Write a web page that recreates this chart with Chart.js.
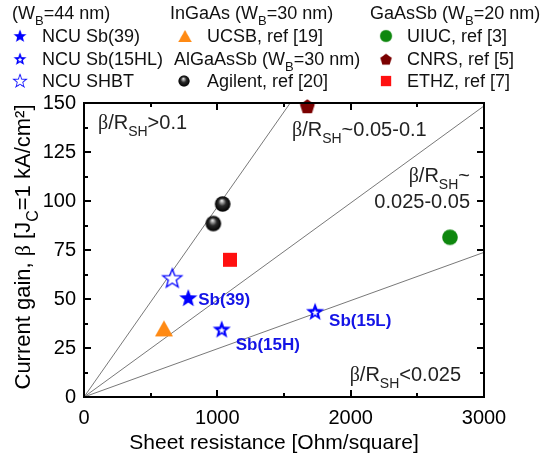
<!DOCTYPE html>
<html lang="en">
<head>
<meta charset="UTF-8">
<title>Current gain vs sheet resistance</title>
<script src="https://cdn.jsdelivr.net/npm/chart.js@4.4.1/dist/chart.umd.min.js"></script>
<style>
    body { margin: 0; background: #fff; }
    #palco { position: relative; width: 546px; height: 465px; }
    canvas { display: block; }
    .traco { position: absolute; background: #000; pointer-events: none; }
</style>
</head>
<body>
<div id="palco">
    <canvas id="grafico" width="546" height="465"></canvas>
</div>
<script>
    // data (sheet resistance in Ohm/sq, gain)
    const sb39R = [782];
    const sb39Gain = [50.5];
    const sb15R = [1033, 1733];
    const sb15Gain = [34.5, 43.5];
    const sb15Labels = ['Sb(15H)', 'Sb(15L)'];
    const shbtR = [662];
    const shbtGain = [60.5];
    const ucsbR = [600];
    const ucsbGain = [35];
    const agilentR = [970, 1040];
    const agilentGain = [88.5, 98.5];
    const uiucR = [2745];
    const uiucGain = [81.5];
    const cnrsR = [1675];
    const cnrsGain = [148.5];
    const ethzR = [1095];
    const ethzGain = [70];
    // beta / Rsh guide lines through the origin
    const guideSlopes = [0.097, 0.0495, 0.0246];
    const xTicks = [0, 1000, 2000, 3000];
    const yTicks = [0, 25, 50, 75, 100, 125, 150];

    const FONT = '"Liberation Sans", Arial, sans-serif';
    const SERIF = '"Liberation Serif", "Times New Roman", serif';
    const BLUE = '#0000ff';

    function pts(xs, ys) {
        return xs.map((x, i) => ({ x: x, y: ys[i] }));
    }

    function marker(size, draw) {
        const c = document.createElement('canvas');
        c.width = size; c.height = size;
        draw(c.getContext('2d'), size / 2);
        return c;
    }

    function starPath(c, cx, cy, R, r) {
        c.beginPath();
        for (let i = 0; i < 10; i++) {
            const a = -Math.PI / 2 + i * Math.PI / 5;
            const rr = i % 2 ? r : R;
            c.lineTo(cx + rr * Math.cos(a), cy + rr * Math.sin(a));
        }
        c.closePath();
    }

    const mStarFull = marker(22, (c, m) => {
        starPath(c, m, m + 0.5, 9.5, 4); c.fillStyle = BLUE; c.fill();
    });
    const mStarHL = marker(22, (c, m) => {
        starPath(c, m, m + 0.5, 9.5, 4); c.fillStyle = BLUE; c.fill();
        starPath(c, m, m + 1, 3.6, 1.5); c.fillStyle = '#fff'; c.fill();
    });
    const mStarOpen = marker(24, (c, m) => {
        starPath(c, m, m + 0.5, 10, 4.2); c.fillStyle = '#fff'; c.fill();
        c.strokeStyle = BLUE; c.lineWidth = 1.3; c.stroke();
    });
    const mTriangle = marker(22, (c, m) => {
        c.beginPath(); c.moveTo(m, m - 8); c.lineTo(m + 9, m + 8); c.lineTo(m - 9, m + 8); c.closePath();
        c.fillStyle = '#ff8a14'; c.fill();
    });
    const mSphere = marker(20, (c, m) => {
        const g = c.createRadialGradient(m - 1, m - 3.5, 0, m, m, 7.8);
        g.addColorStop(0, '#ffffff');
        g.addColorStop(0.18, '#b0b0b0');
        g.addColorStop(0.5, '#2a2a2a');
        g.addColorStop(1, '#000000');
        c.beginPath(); c.arc(m, m, 7.8, 0, Math.PI * 2); c.fillStyle = g; c.fill();
    });
    const mCircle = marker(20, (c, m) => {
        c.beginPath(); c.arc(m, m, 7.8, 0, Math.PI * 2); c.fillStyle = '#0e870e'; c.fill();
    });
    const mPentagon = marker(20, (c, m) => {
        c.beginPath();
        for (let i = 0; i < 5; i++) {
            const a = -Math.PI / 2 + i * 2 * Math.PI / 5;
            c.lineTo(m + 7.8 * Math.cos(a), m + 1 + 7.8 * Math.sin(a));
        }
        c.closePath(); c.fillStyle = '#7b0000'; c.fill();
    });
    const mSquare = marker(20, (c, m) => {
        c.fillStyle = '#ff1010'; c.fillRect(m - 7, m - 7, 14, 14);
    });

    function rich(ctx, parts, x, y, size, align, color) {
        const sub = Math.round(size * 0.72);
        const fnt = k => k === 's' ? sub + 'px ' + FONT : k === 'b' ? size + 'px ' + SERIF : size + 'px ' + FONT;
        let w = 0;
        parts.forEach(p => { ctx.font = fnt(p[1]); w += ctx.measureText(p[0]).width; });
        let cx = align === 'right' ? x - w : align === 'center' ? x - w / 2 : x;
        ctx.fillStyle = color;
        ctx.textAlign = 'left';
        ctx.textBaseline = 'alphabetic';
        parts.forEach(p => {
            ctx.font = fnt(p[1]);
            const dy = p[1] === 's' ? size * 0.36 : 0;
            ctx.fillText(p[0], cx, y + dy);
            cx += ctx.measureText(p[0]).width;
        });
    }

    const guideData = guideSlopes.map(k => {
        const xe = Math.min(3000, 150 / k);
        return [{ x: 0, y: 0 }, { x: xe, y: k * xe }];
    });

    const textos = {
        id: 'textos',
        afterDraw(chart) {
            const ctx = chart.ctx;
            ctx.save();
            // axis titles
            rich(ctx, [['Sheet resistance [Ohm/square]', 'n']], 274, 449, 21, 'center', '#000');
            ctx.translate(22, 247);
            ctx.rotate(-Math.PI / 2);
            rich(ctx, [['Current gain, ', 'n'], ['\u03b2', 'b'], [' [J', 'n'], ['C', 's'], ['=1 kA/cm\u00b2]', 'n']], 0, 8, 22, 'center', '#000');
            ctx.restore();
            ctx.save();

            // region notes
            const g = '#222';
            rich(ctx, [['\u03b2', 'b'], ['/R', 'n'], ['SH', 's'], ['>0.1', 'n']], 98, 129, 20, 'left', g);
            rich(ctx, [['\u03b2', 'b'], ['/R', 'n'], ['SH', 's'], ['~0.05-0.1', 'n']], 292, 136, 20, 'left', g);
            rich(ctx, [['\u03b2', 'b'], ['/R', 'n'], ['SH', 's'], ['~', 'n']], 470, 182, 20, 'right', g);
            rich(ctx, [['0.025-0.05', 'n']], 470, 208, 20, 'right', g);
            rich(ctx, [['\u03b2', 'b'], ['/R', 'n'], ['SH', 's'], ['<0.025', 'n']], 461, 381, 20, 'right', g);

            // labels next to the NCU points
            ctx.font = 'bold 17px ' + FONT;
            ctx.fillStyle = '#1414e6';
            ctx.textBaseline = 'middle';
            ctx.textAlign = 'left';
            const p39 = chart.getDatasetMeta(0).data[0];
            ctx.fillText('Sb(39)', p39.x + 10, p39.y + 2);
            const m15 = chart.getDatasetMeta(1).data;
            ctx.fillText(sb15Labels[0], m15[0].x + 14, m15[0].y + 16);
            ctx.fillText(sb15Labels[1], m15[1].x + 14, m15[1].y + 10);

            // legend
            const rows = [13, 36, 59, 81];
            const t = '#111';
            function icon(img, x, y, s) {
                const w = img.width * s;
                ctx.drawImage(img, x - w / 2, y - w / 2, w, w);
            }
            const base = 6;
            rich(ctx, [['(W', 'n'], ['B', 's'], ['=44 nm)', 'n']], 12, rows[0] + base, 18, 'left', t);
            icon(mStarFull, 20, rows[1], 0.72);
            rich(ctx, [['NCU Sb(39)', 'n']], 42, rows[1] + base, 18, 'left', t);
            icon(mStarHL, 20, rows[2], 0.72);
            rich(ctx, [['NCU Sb(15HL)', 'n']], 42, rows[2] + base, 18, 'left', t);
            icon(mStarOpen, 20, rows[3], 0.68);
            rich(ctx, [['NCU SHBT', 'n']], 42, rows[3] + base, 18, 'left', t);

            rich(ctx, [['InGaAs (W', 'n'], ['B', 's'], ['=30 nm)', 'n']], 170, rows[0] + base, 18, 'left', t);
            icon(mTriangle, 185, rows[1], 0.75);
            rich(ctx, [['UCSB, ref [19]', 'n']], 207, rows[1] + base, 18, 'left', t);
            rich(ctx, [['AlGaAsSb (W', 'n'], ['B', 's'], ['=30 nm)', 'n']], 174, rows[2] + base, 18, 'left', t);
            icon(mSphere, 184, rows[3], 0.72);
            rich(ctx, [['Agilent, ref [20]', 'n']], 207, rows[3] + base, 18, 'left', t);

            rich(ctx, [['GaAsSb (W', 'n'], ['B', 's'], ['=20 nm)', 'n']], 370, rows[0] + base, 18, 'left', t);
            icon(mCircle, 386, rows[1], 0.78);
            rich(ctx, [['UIUC, ref [3]', 'n']], 407, rows[1] + base, 18, 'left', t);
            icon(mPentagon, 386, rows[2], 0.78);
            rich(ctx, [['CNRS, ref [5]', 'n']], 407, rows[2] + base, 18, 'left', t);
            icon(mSquare, 386, rows[3], 0.75);
            rich(ctx, [['ETHZ, ref [7]', 'n']], 407, rows[3] + base, 18, 'left', t);
            ctx.restore();
        }
    };

    function pontos(data, img, ordem) {
        return { type: 'scatter', data: data, pointStyle: img, pointRadius: 8, clip: false, order: ordem };
    }

    const datasets = [
        pontos(pts(sb39R, sb39Gain), mStarFull, 0),
        pontos(pts(sb15R, sb15Gain), mStarHL, 1),
        pontos(pts(shbtR, shbtGain), mStarOpen, 2),
        pontos(pts(ucsbR, ucsbGain), mTriangle, 3),
        pontos(pts(agilentR, agilentGain), mSphere, 4),
        pontos(pts(uiucR, uiucGain), mCircle, 5),
        pontos(pts(cnrsR, cnrsGain), mPentagon, 6),
        pontos(pts(ethzR, ethzGain), mSquare, 7)
    ];
    guideData.forEach(d => {
        datasets.push({
            type: 'line', data: d, showLine: true, borderColor: '#555', borderWidth: 0.8,
            pointRadius: 0, fill: false, order: 20
        });
    });

    const grafico = new Chart(document.getElementById('grafico'), {
        type: 'scatter',
        data: { datasets: datasets },
        options: {
            responsive: false,
            animation: false,
            events: [],
            layout: { padding: { left: 0, top: 103, right: 62, bottom: 0 } },
            plugins: { legend: { display: false }, tooltip: { enabled: false } },
            scales: {
                x: {
                    type: 'linear', min: 0, max: 3000,
                    afterBuildTicks(s) { s.ticks = xTicks.map(v => ({ value: v })); },
                    ticks: { color: '#000', font: { family: FONT, size: 20 }, padding: 9, maxRotation: 0,
                        callback: v => String(v) },
                    grid: { display: false, drawTicks: false },
                    border: { display: false },
                    afterFit(s) { s.height = 68; }
                },
                y: {
                    type: 'linear', min: 0, max: 150,
                    afterBuildTicks(s) { s.ticks = yTicks.map(v => ({ value: v })); },
                    ticks: { color: '#000', font: { family: FONT, size: 20 }, padding: 8,
                        callback: v => String(v) },
                    grid: { display: false, drawTicks: false },
                    border: { display: false },
                    afterFit(s) { s.width = 84; }
                }
            }
        },
        plugins: [textos]
    });

    // box and inward ticks as thin elements laid over the canvas,
    // placed from the chart's own area and scales
    function traco(x, y, w, h) {
        const d = document.createElement('div');
        d.className = 'traco';
        d.style.left = x + 'px';
        d.style.top = y + 'px';
        d.style.width = w + 'px';
        d.style.height = h + 'px';
        document.getElementById('palco').appendChild(d);
    }

    function montarMoldura(chart) {
        const a = chart.chartArea;
        const xs = chart.scales.x, ys = chart.scales.y;
        const L = Math.round(a.left), R = Math.round(a.right);
        const T = Math.round(a.top), B = Math.round(a.bottom);
        traco(L - 1, T - 1, R - L + 2, 2);
        traco(L - 1, B - 1, R - L + 2, 2);
        traco(L - 1, T - 1, 2, B - T + 2);
        traco(R - 1, T - 1, 2, B - T + 2);
        const xAll = [];
        xTicks.forEach((v, i) => {
            xAll.push([v, 7]);
            if (i > 0) xAll.push([(xTicks[i - 1] + v) / 2, 4]);
        });
        xAll.forEach(([v, len]) => {
            const px = Math.round(xs.getPixelForValue(v));
            traco(px - 0.75, B - len, 1.5, len);
            traco(px - 0.75, T, 1.5, len);
        });
        const yAll = [];
        yTicks.forEach((v, i) => {
            yAll.push([v, 7]);
            if (i > 0) yAll.push([(yTicks[i - 1] + v) / 2, 4]);
        });
        yAll.forEach(([v, len]) => {
            const py = Math.round(ys.getPixelForValue(v));
            traco(L, py - 0.75, len, 1.5);
            traco(R - len, py - 0.75, len, 1.5);
        });
    }

    montarMoldura(grafico);
</script>
</body>
</html>
